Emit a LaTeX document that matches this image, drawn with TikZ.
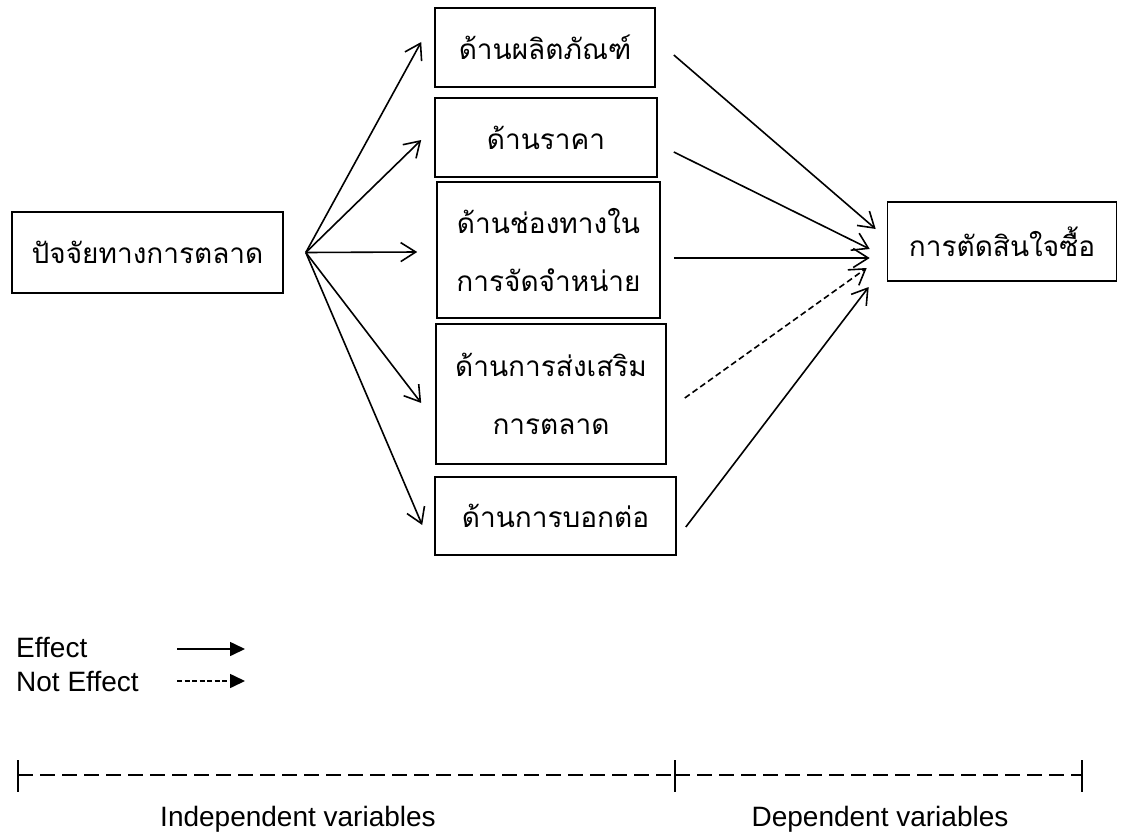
\documentclass[tikz,border=0pt]{standalone}
\usepackage{fontspec}
\setmainfont{Liberation Sans}
\newfontfamily\thaifont[Script=Thai]{Loma}
\usetikzlibrary{arrows.meta,calc}
\begin{document}
\begin{tikzpicture}[x=1pt,y=-1pt,
  box/.style={draw, line width=1.6pt, inner sep=0pt, align=center,
    font=\thaifont\fontsize{28}{58}\selectfont},
  link/.style={line width=1.6pt, -{Straight Barb[length=15pt,width=19pt,line width=1.6pt]}},
  weak/.style={link, dash pattern=on 6pt off 3.5pt},
  legendtext/.style={font=\fontsize{28}{34}\selectfont, inner sep=0pt},
  keyarrow/.style={line width=1.6pt, -{Triangle[length=15pt,width=14pt]}},
  scale line/.style={line width=1.9pt, dash pattern=on 15pt off 7pt},
  tick/.style={line width=1.6pt}]
\useasboundingbox (0,0) rectangle (1123,832);

% factor boxes
\node[box, minimum width=271pt, minimum height=81pt] (src) at (147.5,252.5) {ปัจจัยทางการตลาด};
\node[box, minimum width=220pt, minimum height=79pt] (b1) at (545,47.5) {ด้านผลิตภัณฑ์};
\node[box, minimum width=222pt, minimum height=79pt] (b2) at (546,137.5) {ด้านราคา};
\node[box, minimum width=223pt, minimum height=136pt] (b3) at (548.5,250) {ด้านช่องทางใน\\การจัดจำหน่าย};
\node[box, minimum width=230pt, minimum height=140pt] (b4) at (551,394) {ด้านการส่งเสริม\\การตลาด};
\node[box, minimum width=241pt, minimum height=78pt] (b5) at (555.5,516) {ด้านการบอกต่อ};
\node[box, minimum width=229pt, minimum height=79pt] (dv) at (1002,241.5) {การตัดสินใจซื้อ};

% fan of arrows out of the marketing factors
\coordinate (fan) at ($(src.east)+(22,0)$);
\draw[link] (fan) -- ($(b1.west)+(-13,-5.5)$);
\draw[link] (fan) -- ($(b2.west)+(-13,2.5)$);
\draw[link] (fan) -- ($(b3.west)+(-19,2)$);
\draw[link] (fan) -- ($(b4.west)+(-14,9)$);
\draw[link] (fan) -- ($(b5.west)+(-12,9)$);

% effects on the purchase decision
\draw[link] ($(b1.east)+(18,7.5)$) -- ($(dv.west)+(-11,-12.5)$);
\draw[link] ($(b2.east)+(16,14.5)$) -- ($(dv.west)+(-17,7.5)$);
\draw[link] ($(b3.east)+(13,8)$) -- ($(dv.west)+(-17,16.5)$);
\draw[weak] ($(b4.east)+(18,4)$) -- ($(dv.west)+(-20,26.5)$);
\draw[link] ($(b5.east)+(9,11)$) -- ($(dv.west)+(-18,45.5)$);

% legend
\node[legendtext, anchor=base west] (eff) at (16,657) {Effect};
\node[legendtext, anchor=base west] (neff) at (16,691) {Not Effect};
\coordinate (e1) at (177,649);
\coordinate (e2) at (245,649);
\coordinate (n1) at (177,681);
\coordinate (n2) at (245,681);
\draw[keyarrow] (e1) -- (e2);
\draw[keyarrow, dash pattern=on 5pt off 2.5pt] (n1) -- (n2);

% variable scale
\coordinate (sl) at (18,775);
\coordinate (sm) at (675,775);
\coordinate (sr) at (1082,775);
\draw[scale line] (sl) -- (sm);
\draw[scale line] (sm) -- (sr);
\foreach \p in {sl,sm,sr}
  \draw[tick] ($(\p)+(0,-15)$) -- ($(\p)+(0,17)$);
\node[legendtext, anchor=base] (indep) at (298,826) {Independent variables};
\node[legendtext, anchor=base] (dep) at (880,826) {Dependent variables};
\end{tikzpicture}
\end{document}
